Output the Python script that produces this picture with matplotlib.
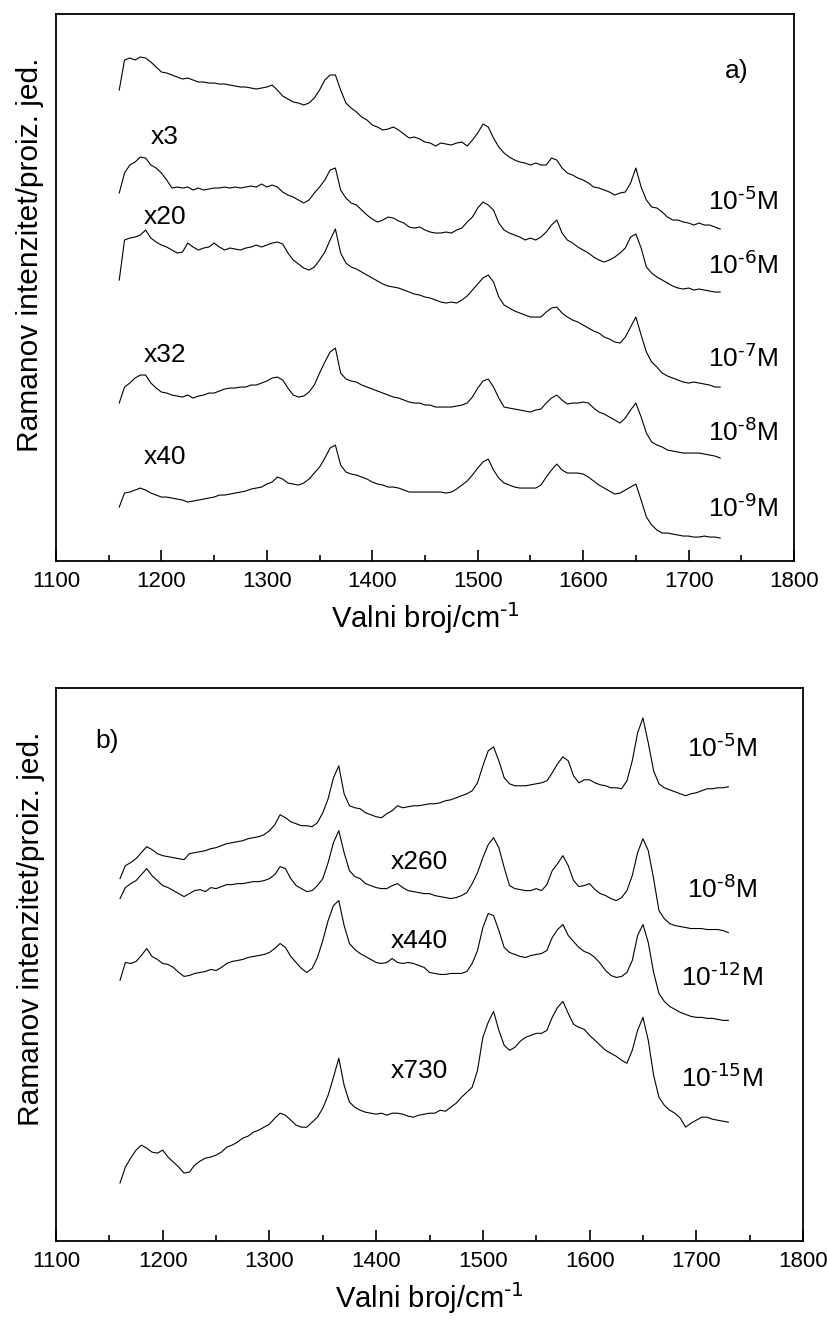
import numpy as np
import matplotlib
matplotlib.use('Agg')
import matplotlib.pyplot as plt

plt.rcParams['font.family'] = ['Liberation Sans', 'DejaVu Sans']
plt.rcParams['mathtext.default'] = 'regular'

# wavenumber grid (cm-1), values read every 5 cm-1
wavenumber = np.arange(1160, 1731, 5)

# panel a) - intensities in arbitrary units (already offset for stacking)
a_1e5 = [471, 501, 503, 501, 504, 503, 499, 494, 489, 488, 486, 484, 482, 483, 481, 479, 479, 478, 478, 477,
         477, 476, 475, 474, 474, 473, 472, 473, 474, 476, 471, 465, 462, 459, 458, 456, 458, 463, 471, 481,
         486, 486, 471, 458, 453, 449, 444, 441, 436, 434, 431, 432, 434, 431, 427, 423, 424, 422, 419, 418,
         415, 418, 417, 416, 418, 419, 415, 421, 428, 437, 434, 423, 414, 408, 404, 401, 399, 398, 396, 398,
         396, 396, 403, 401, 393, 388, 386, 383, 381, 378, 374, 373, 371, 369, 366, 368, 369, 378, 393, 374,
         361, 354, 353, 349, 344, 341, 341, 339, 338, 336, 338, 336, 336, 334, 332]
a_1e6 = [368, 388, 396, 399, 404, 403, 396, 393, 388, 381, 373, 374, 373, 374, 371, 373, 371, 372, 373, 373,
         374, 373, 374, 373, 374, 375, 374, 377, 374, 376, 374, 369, 366, 364, 361, 358, 361, 368, 374, 381,
         391, 393, 371, 363, 358, 356, 351, 346, 342, 339, 341, 344, 343, 340, 338, 334, 333, 334, 331, 329,
         328, 328, 329, 328, 331, 333, 339, 344, 353, 359, 356, 351, 338, 331, 328, 326, 324, 321, 323, 321,
         324, 329, 336, 341, 328, 321, 318, 314, 311, 308, 304, 301, 299, 301, 304, 308, 313, 324, 327, 313,
         294, 288, 284, 281, 278, 275, 273, 272, 273, 271, 272, 271, 270, 269, 269]
a_1e7 = [281, 321, 323, 324, 326, 331, 323, 319, 316, 314, 311, 308, 309, 318, 314, 311, 313, 314, 318, 314,
         311, 313, 312, 311, 313, 314, 316, 314, 316, 318, 319, 317, 308, 301, 297, 293, 291, 294, 301, 309,
         321, 332, 308, 298, 294, 292, 289, 286, 283, 280, 277, 275, 274, 273, 271, 269, 267, 266, 264, 263,
         261, 259, 258, 259, 258, 261, 265, 271, 277, 283, 286, 279, 264, 256, 253, 250, 248, 246, 244, 244,
         244, 249, 253, 254, 248, 244, 241, 239, 236, 233, 230, 228, 224, 222, 219, 218, 224, 234, 244, 226,
         209, 199, 194, 188, 185, 183, 181, 179, 178, 179, 178, 177, 176, 174, 174]
a_1e8 = [158, 174, 178, 183, 186, 186, 178, 173, 169, 168, 166, 165, 164, 166, 163, 165, 166, 168, 168, 170,
         172, 173, 173, 174, 174, 176, 176, 178, 180, 183, 184, 181, 173, 166, 164, 165, 169, 176, 188, 199,
         209, 213, 188, 182, 180, 179, 176, 174, 172, 170, 168, 166, 164, 163, 161, 159, 158, 158, 156, 156,
         154, 154, 154, 154, 155, 156, 158, 164, 173, 180, 182, 174, 163, 154, 153, 152, 151, 150, 149, 151,
         152, 158, 163, 166, 161, 157, 158, 158, 159, 158, 153, 149, 147, 144, 141, 138, 143, 151, 158, 144,
         128, 119, 116, 114, 111, 110, 109, 108, 108, 108, 108, 107, 106, 105, 103]
a_1e9 = [54, 68, 69, 71, 73, 71, 68, 66, 64, 64, 63, 62, 61, 59, 60, 61, 62, 63, 64, 66,
         66, 67, 68, 69, 70, 72, 73, 74, 77, 79, 84, 82, 78, 77, 76, 78, 82, 88, 94, 103,
         113, 116, 96, 89, 87, 86, 84, 82, 79, 77, 76, 74, 74, 73, 71, 69, 69, 69, 69, 69,
         69, 69, 68, 69, 72, 76, 80, 86, 93, 99, 102, 91, 83, 78, 76, 74, 73, 73, 73, 73,
         76, 84, 91, 97, 91, 88, 88, 88, 87, 84, 80, 76, 73, 70, 67, 68, 71, 74, 77, 61,
         44, 36, 31, 28, 28, 27, 26, 25, 25, 24, 24, 25, 24, 24, 23]

# panel b)
b_1e5 = [363, 376, 379, 383, 389, 395, 392, 388, 386, 385, 384, 383, 382, 388, 389, 390, 391, 393, 394, 396,
         398, 399, 400, 401, 403, 404, 405, 407, 411, 417, 427, 424, 420, 418, 416, 416, 415, 419, 429, 443,
         464, 476, 448, 436, 434, 433, 429, 427, 425, 424, 428, 431, 436, 434, 435, 436, 436, 437, 438, 438,
         439, 441, 442, 444, 446, 448, 451, 459, 476, 491, 495, 481, 464, 458, 456, 456, 456, 457, 458, 459,
         461, 469, 478, 485, 481, 466, 459, 462, 462, 459, 457, 456, 454, 454, 453, 461, 481, 509, 524, 499,
         471, 458, 454, 452, 450, 448, 446, 448, 449, 451, 453, 453, 454, 454, 455]
b_1e8 = [343, 354, 358, 361, 367, 373, 366, 361, 356, 354, 351, 348, 345, 348, 351, 352, 350, 354, 353, 355,
         357, 357, 358, 358, 359, 360, 360, 361, 363, 367, 375, 373, 363, 356, 353, 350, 351, 356, 363, 379,
         399, 411, 389, 371, 365, 363, 358, 356, 354, 353, 353, 356, 358, 354, 351, 350, 349, 348, 348, 346,
         345, 344, 343, 344, 346, 349, 358, 369, 384, 397, 404, 394, 374, 356, 353, 352, 351, 351, 353, 351,
         357, 371, 378, 386, 376, 361, 355, 356, 358, 352, 348, 346, 343, 341, 344, 351, 366, 389, 403, 391,
         363, 331, 323, 318, 316, 315, 314, 313, 313, 313, 312, 312, 312, 311, 309]
b_1e12 = [261, 279, 278, 280, 286, 293, 285, 282, 278, 277, 274, 269, 265, 266, 268, 269, 270, 272, 271, 274,
          278, 280, 281, 282, 284, 285, 286, 287, 289, 293, 298, 294, 285, 279, 273, 269, 273, 284, 301, 321,
          336, 341, 316, 298, 292, 288, 285, 282, 279, 278, 279, 283, 279, 278, 279, 278, 276, 274, 269, 268,
          267, 267, 268, 268, 268, 270, 278, 291, 314, 328, 326, 311, 294, 289, 287, 285, 284, 286, 287, 288,
          291, 304, 312, 317, 306, 300, 294, 290, 288, 284, 278, 271, 266, 264, 265, 269, 281, 306, 317, 299,
          269, 248, 240, 235, 232, 229, 227, 225, 224, 224, 223, 223, 222, 221, 221]
b_1e15 = [58, 74, 83, 91, 96, 93, 89, 88, 91, 84, 79, 74, 68, 69, 76, 80, 83, 84, 86, 89,
          94, 96, 99, 103, 105, 109, 111, 114, 117, 123, 128, 126, 121, 116, 114, 114, 119, 124, 133, 146,
          164, 183, 156, 139, 134, 131, 129, 128, 127, 128, 126, 128, 128, 127, 125, 124, 126, 127, 128, 128,
          131, 130, 134, 138, 144, 149, 154, 171, 204, 219, 230, 211, 196, 191, 194, 200, 204, 206, 208, 208,
          211, 224, 234, 240, 228, 217, 214, 212, 206, 201, 196, 191, 188, 185, 181, 178, 191, 211, 224, 201,
          166, 144, 136, 131, 128, 123, 114, 118, 121, 124, 124, 122, 121, 120, 119]

spectraA = [a_1e5, a_1e6, a_1e7, a_1e8, a_1e9]
spectraB = [b_1e5, b_1e8, b_1e12, b_1e15]

concA = ['10$^{\\text{-5}}$M', '10$^{\\text{-6}}$M', '10$^{\\text{-7}}$M', '10$^{\\text{-8}}$M', '10$^{\\text{-9}}$M']
factorA = ['x3', 'x20', 'x32', 'x40']
concB = ['10$^{\\text{-5}}$M', '10$^{\\text{-8}}$M', '10$^{\\text{-12}}$M', '10$^{\\text{-15}}$M']
factorB = ['x260', 'x440', 'x730']

fig = plt.figure(figsize=(8.27, 13.22), dpi=100)
axA = fig.add_axes([0.0677, 0.5756, 0.8924, 0.4138])
axB = fig.add_axes([0.0677, 0.0613, 0.9033, 0.4183])


def styleAxis(ax, top):
    ax.set_xlim(1100, 1800)
    ax.set_ylim(0, top)
    ax.set_xticks(np.arange(1100, 1801, 100))
    ax.set_xticks(np.arange(1150, 1800, 100), minor=True)
    ax.set_yticks([])
    ax.tick_params(axis='x', which='major', direction='in', length=8, width=1.2, labelsize=16, pad=7)
    ax.tick_params(axis='x', which='minor', direction='in', length=4, width=1.2)
    ax.tick_params(top=False)
    for s in ax.spines.values():
        s.set_linewidth(1.3)
    ax.set_xlabel('Valni broj/cm$^{\\text{-1}}$', fontsize=21, labelpad=6)
    ax.set_ylabel('Ramanov intenzitet/proiz. jed.', fontsize=21.5)


for s in spectraA:
    axA.plot(wavenumber, s, color='black', lw=0.8)
for s in spectraB:
    axB.plot(wavenumber, s, color='black', lw=0.8)

styleAxis(axA, 547)
styleAxis(axB, 554)
axA.yaxis.set_label_coords(-0.016, 0.56)
axB.yaxis.set_label_coords(-0.015, 0.565)

# labels panel a
for lab, h in zip(concA, [360, 296, 203, 129, 53]):
    axA.text(1752, h, lab, fontsize=19, ha='center', va='center')
for lab, h in zip(factorA, [424, 344, 206, 104]):
    axA.text(1203, h, lab, fontsize=19, ha='center', va='center')
axA.text(1746, 490, 'a)', fontsize=19, ha='center', va='center')

# labels panel b
for lab, h in zip(concB, [494, 353, 264, 163]):
    axB.text(1724, h, lab, fontsize=19, ha='center', va='center')
for lab, h in zip(factorB, [380, 301, 170]):
    axB.text(1440, h, lab, fontsize=19, ha='center', va='center')
axB.text(1148, 501, 'b)', fontsize=19, ha='center', va='center')

fig.savefig('out.png', dpi=100)
